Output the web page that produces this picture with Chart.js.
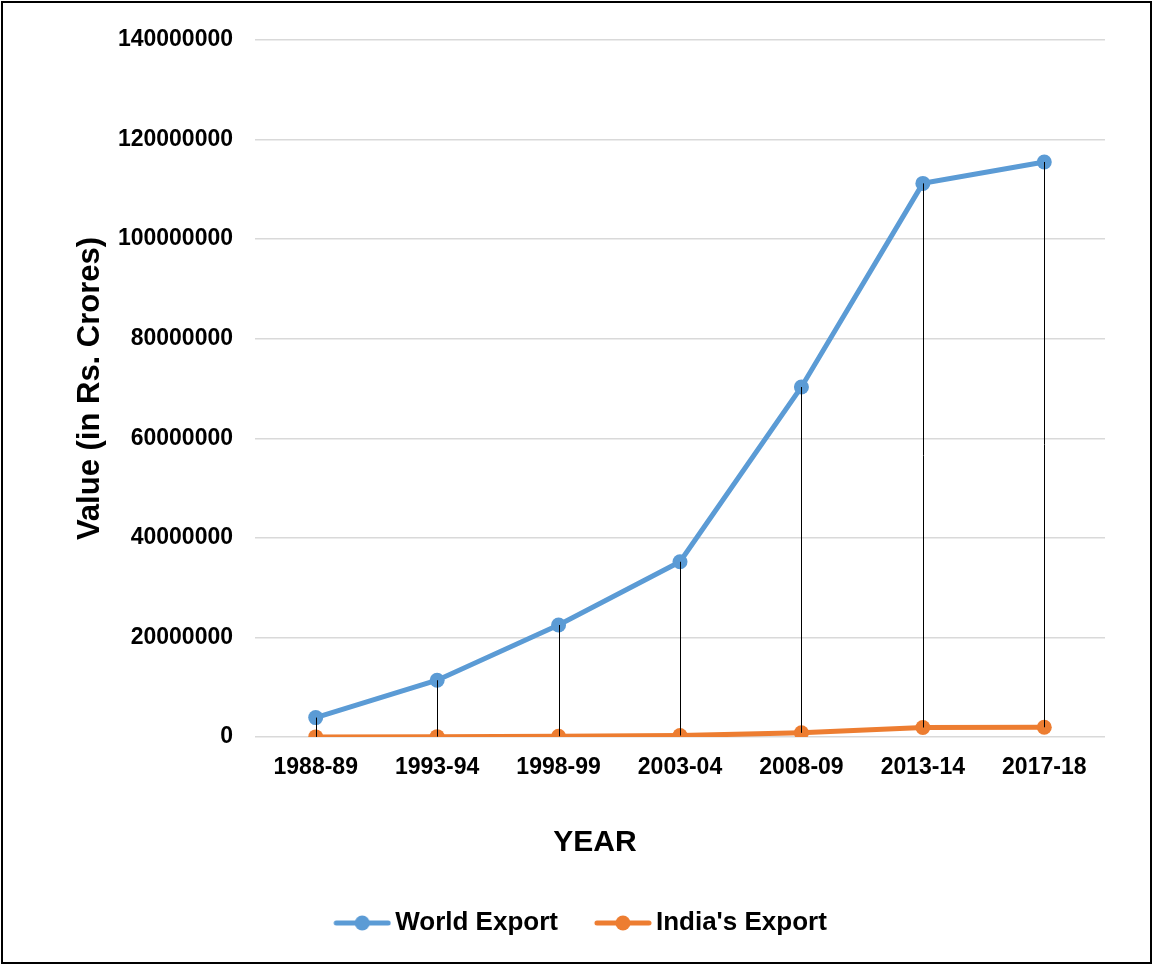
<!DOCTYPE html>
<html lang="en">
<head>
    <meta charset="UTF-8">
    <title>World Export vs India's Export</title>
    <script src="https://cdn.jsdelivr.net/npm/chart.js"></script>
    <style>
        html, body { margin: 0; padding: 0; background: #fff; }
        .frame {
            position: absolute; left: 1px; top: 1px;
            width: 1151px; height: 963px;
            border: 2px solid #000; box-sizing: border-box;
        }
    </style>
</head>
<body>
    <div class="frame">
        <canvas id="exportChart"></canvas>
    </div>
    <script>
        // values in Rs. crores
        const years = ['1988-89', '1993-94', '1998-99', '2003-04', '2008-09', '2013-14', '2017-18'];
        const worldExport = [3900000, 11400000, 22500000, 35200000, 70300000, 111200000, 115500000];
        const indiaExport = [20232, 69751, 139753, 293367, 840755, 1905011, 1956515];
        const seriesNames = ['World Export', "India's Export"];
        const seriesColors = ['#5b9bd5', '#ed7d31'];
        const yMax = 140000000;
        const yStep = 20000000;
        const xTitle = 'YEAR';

        const fontFamily = '"Liberation Sans", Arial, sans-serif';

        // line + marker swatch for the legend
        function legendIcon(color) {
            const c = document.createElement('canvas');
            c.width = 93; c.height = 18;
            const g = c.getContext('2d');
            g.strokeStyle = color;
            g.lineWidth = 5;
            g.lineCap = 'round';
            g.beginPath();
            g.moveTo(38, 9);
            g.lineTo(90, 9);
            g.stroke();
            g.fillStyle = color;
            g.beginPath();
            g.arc(64, 9, 7.5, 0, Math.PI * 2);
            g.fill();
            return c;
        }
        const icons = seriesColors.map(legendIcon);

        // black high-low lines between the two series
        const hiLowLines = {
            id: 'hiLowLines',
            afterDatasetsDraw(chart) {
                const ctx = chart.ctx;
                const top = chart.getDatasetMeta(0).data;
                const bottom = chart.getDatasetMeta(1).data;
                ctx.save();
                ctx.strokeStyle = '#000';
                ctx.lineWidth = 1;
                top.forEach((p, i) => {
                    const x = Math.round(p.x) + 0.5;
                    ctx.beginPath();
                    ctx.moveTo(x, p.y);
                    ctx.lineTo(x, bottom[i].y);
                    ctx.stroke();
                });
                ctx.restore();
            }
        };

        // x axis title sits left of the plot centre, as in the original
        const yearTitle = {
            id: 'yearTitle',
            afterDraw(chart) {
                const ctx = chart.ctx;
                const area = chart.chartArea;
                ctx.save();
                ctx.fillStyle = '#000';
                ctx.font = 'bold 30px ' + fontFamily;
                ctx.textAlign = 'center';
                ctx.textBaseline = 'middle';
                ctx.fillText(xTitle, area.left + (area.right - area.left) * 0.4, area.bottom + 106);
                ctx.restore();
            }
        };

        new Chart(document.getElementById('exportChart'), {
            type: 'line',
            data: {
                labels: years,
                datasets: [worldExport, indiaExport].map((vals, i) => ({
                    label: seriesNames[i],
                    data: vals,
                    borderColor: seriesColors[i],
                    backgroundColor: seriesColors[i],
                    borderWidth: 5,
                    pointRadius: 7.5,
                    pointBorderWidth: 0,
                    pointBackgroundColor: seriesColors[i],
                    tension: 0
                }))
            },
            options: {
                responsive: true,
                maintainAspectRatio: false,
                animation: false,
                layout: { padding: { left: 26, right: 45, top: 37, bottom: 16 } },
                plugins: {
                    tooltip: { enabled: false },
                    legend: {
                        position: 'bottom',
                        labels: {
                            usePointStyle: true,
                            pointStyleWidth: 75,
                            padding: 10,
                            color: '#000',
                            font: { family: fontFamily, size: 26, weight: 'bold' },
                            generateLabels: chart => chart.data.datasets.map((ds, i) => ({
                                text: ds.label,
                                pointStyle: icons[i],
                                fillStyle: 'transparent',
                                strokeStyle: 'transparent',
                                lineWidth: 0,
                                fontColor: '#000',
                                hidden: false,
                                datasetIndex: i
                            }))
                        }
                    }
                },
                scales: {
                    x: {
                        offset: true,
                        grid: { display: false, drawTicks: false },
                        border: { display: false },
                        ticks: {
                            color: '#000',
                            padding: 17,
                            maxRotation: 0,
                            font: { family: fontFamily, size: 23, weight: 'bold' }
                        },
                        afterFit: scale => { scale.height = 163; }
                    },
                    y: {
                        min: 0,
                        max: yMax,
                        grid: { color: '#d9d9d9', lineWidth: 1.5, drawTicks: false },
                        border: { display: false },
                        ticks: {
                            stepSize: yStep,
                            color: '#000',
                            padding: 22,
                            font: { family: fontFamily, size: 23, weight: 'bold' },
                            callback: v => String(v)
                        },
                        title: {
                            display: true,
                            text: 'Value (in Rs. Crores)',
                            color: '#000',
                            padding: { top: 42.4, bottom: 0 },
                            font: { family: fontFamily, size: 31, weight: 'bold' }
                        },
                        afterFit: scale => { scale.width = 226; }
                    }
                }
            },
            plugins: [hiLowLines, yearTitle]
        });
    </script>
</body>
</html>
